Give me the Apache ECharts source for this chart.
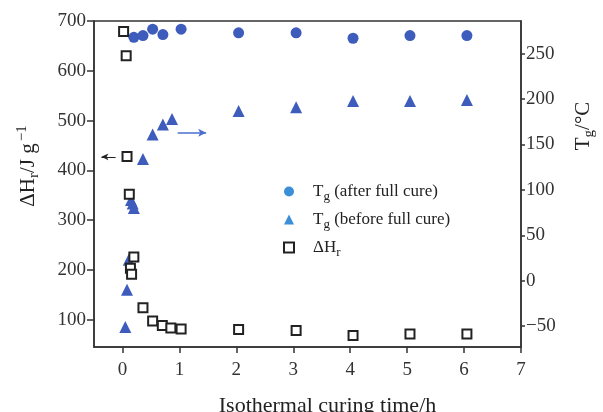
<!DOCTYPE html>
<html>
<head>
<meta charset="utf-8">
<script src="https://cdn.jsdelivr.net/npm/echarts@6/dist/echarts.min.js"></script>
<style>html,body{margin:0;padding:0;background:#fff}#c{width:603px;height:412px}</style>
</head>
<body>
<div id="c"></div>
<script>
// Isothermal curing time (h) and values
const xTicks = [0, 1, 2, 3, 4, 5, 6, 7];
const leftTicks = [100, 200, 300, 400, 500, 600, 700];
const rightTicks = [-50, 0, 50, 100, 150, 200, 250];

const tgAfterX = [0.2, 0.36, 0.53, 0.71, 1.03, 2.04, 3.05, 4.05, 5.05, 6.05];
const tgAfterY = [268, 270, 277, 271, 277, 273, 273, 267, 270, 270];

const tgBeforeX = [0.05, 0.08, 0.11, 0.15, 0.18, 0.2, 0.36, 0.53, 0.71, 0.87, 2.04, 3.05, 4.05, 5.05, 6.05];
const tgBeforeY = [-51, -10, 23, 89, 85, 80, 134, 161, 172, 178, 187, 191, 198, 198, 199];

const dHX = [0.02, 0.065, 0.08, 0.12, 0.14, 0.16, 0.2, 0.36, 0.53, 0.70, 0.85, 1.03, 2.04, 3.05, 4.05, 5.05, 6.05];
const dHY = [679, 630, 428, 352, 203, 191, 226, 124, 97, 88, 83, 81, 80, 78, 68, 71, 71];

// annotation arrows (data coordinates)
const leftArrow = { from: [-0.12, 427], to: [-0.37, 427] };
const rightArrow = { from: [0.97, 163], to: [1.47, 163] };

const zip = (a, b) => a.map((v, i) => [v, b[i]]);
const FONT = '"Liberation Serif", "Times New Roman", serif';
const AX = '#333';
const BLUE = '#3d5cbc';
const LBLUE = '#3b8ed8';

const rich = {
  a: { fontFamily: FONT, fontSize: 17, color: '#222' },
  s: { fontFamily: FONT, fontSize: 13, color: '#222', padding: [10, 0, 0, 0] }
};
const legendNames = {
  'Tg (after full cure)': '{a|T}{s|g}{a| (after full cure)}',
  'Tg (before full cure)': '{a|T}{s|g}{a| (before full cure)}',
  'ΔHr': '{a|ΔH}{s|r}'
};

const chart = echarts.init(document.getElementById('c'), null, { renderer: 'canvas' });
chart.setOption({
  animation: false,
  backgroundColor: '#fff',
  grid: { left: 94, right: 82, top: 21, bottom: 65, show: true, borderColor: AX, borderWidth: 1.5, backgroundColor: 'transparent', outerBoundsMode: 'none', containLabel: false },
  legend: {
    orient: 'vertical', left: 278, top: 178, itemGap: 8, itemWidth: 10, itemHeight: 10,
    formatter: n => legendNames[n],
    textStyle: { rich: rich, padding: [0, 0, 0, 14] },
    data: [
      { name: 'Tg (after full cure)', icon: 'circle', itemStyle: { color: LBLUE } },
      { name: 'Tg (before full cure)', icon: 'triangle', itemStyle: { color: LBLUE } },
      { name: 'ΔHr', icon: 'rect', itemStyle: { color: '#fff', borderColor: '#222', borderWidth: 2 } }
    ]
  },
  xAxis: {
    type: 'value', min: -0.5, max: 7,
    name: 'Isothermal curing time/h', nameLocation: 'middle', nameGap: 48,
    nameTextStyle: { fontFamily: FONT, fontSize: 22, color: '#222', padding: [0, 0, 0, 40] },
    axisLine: { show: true, onZero: false, lineStyle: { color: AX, width: 1.5 } },
    axisTick: { show: true, inside: false, length: 6, customValues: xTicks, lineStyle: { color: AX, width: 1.5 } },
    axisLabel: { customValues: xTicks, fontFamily: FONT, fontSize: 19, color: '#333', margin: 14 },
    splitLine: { show: false }
  },
  yAxis: [
    {
      type: 'value', min: 45, max: 700, position: 'left',
      name: '{a|ΔH}{s|r}{a|/J g}{p|−1}', nameLocation: 'middle', nameGap: 52, nameRotate: 90,
      nameTextStyle: {
        padding: [0, 0, 0, 36],
        rich: {
          a: { fontFamily: FONT, fontSize: 21, color: '#222' },
          s: { fontFamily: FONT, fontSize: 15, color: '#222', padding: [12, 0, 0, 0] },
          p: { fontFamily: FONT, fontSize: 15, color: '#222', padding: [0, 0, 12, 2] }
        }
      },
      axisLine: { show: true, onZero: false, lineStyle: { color: AX, width: 1.5 } },
      axisTick: { show: true, length: 7, customValues: leftTicks, lineStyle: { color: AX, width: 1.5 } },
      axisLabel: { customValues: leftTicks, fontFamily: FONT, fontSize: 19, color: '#333', margin: 8 },
      splitLine: { show: false }
    },
    {
      type: 'value', min: -73, max: 286, position: 'right',
      name: '{a|T}{s|g}{a|/°C}', nameLocation: 'middle', nameGap: 49, nameRotate: 90,
      nameTextStyle: {
        padding: [0, 0, 0, 116],
        rich: {
          a: { fontFamily: FONT, fontSize: 21, color: '#222' },
          s: { fontFamily: FONT, fontSize: 15, color: '#222', padding: [12, 0, 0, 0] }
        }
      },
      axisLine: { show: true, onZero: false, lineStyle: { color: AX, width: 1.5 } },
      axisTick: { show: true, length: 4, customValues: rightTicks, lineStyle: { color: AX, width: 1.5 } },
      axisLabel: {
        customValues: rightTicks, fontFamily: FONT, fontSize: 19, color: '#333', margin: 5,
        formatter: v => (v < 0 ? '\u2212' + (-v) : String(v))
      },
      splitLine: { show: false }
    }
  ],
  series: [
    {
      name: 'Tg (after full cure)', type: 'scatter', yAxisIndex: 1,
      symbol: 'circle', symbolSize: 11, itemStyle: { color: BLUE, opacity: 1 },
      data: zip(tgAfterX, tgAfterY)
    },
    {
      name: 'Tg (before full cure)', type: 'scatter', yAxisIndex: 1,
      symbol: 'triangle', symbolSize: 12, itemStyle: { color: BLUE, opacity: 1 },
      data: zip(tgBeforeX, tgBeforeY),
      markLine: {
        silent: true, symbol: ['none', 'arrow'], symbolSize: [6, 8], label: { show: false },
        lineStyle: { color: '#4a6fd0', width: 1.5, type: 'solid' },
        data: [[{ coord: rightArrow.from }, { coord: rightArrow.to }]]
      }
    },
    {
      name: 'ΔHr', type: 'scatter', yAxisIndex: 0,
      symbol: 'emptyRect', symbolSize: 9, itemStyle: { color: '#222', borderColor: '#222', borderWidth: 2, opacity: 1 },
      data: zip(dHX, dHY),
      markLine: {
        silent: true, symbol: ['none', 'arrow'], symbolSize: [5, 7], label: { show: false },
        lineStyle: { color: '#222', width: 1, type: 'solid' },
        data: [[{ coord: leftArrow.from }, { coord: leftArrow.to }]]
      }
    }
  ]
});
</script>
</body>
</html>
